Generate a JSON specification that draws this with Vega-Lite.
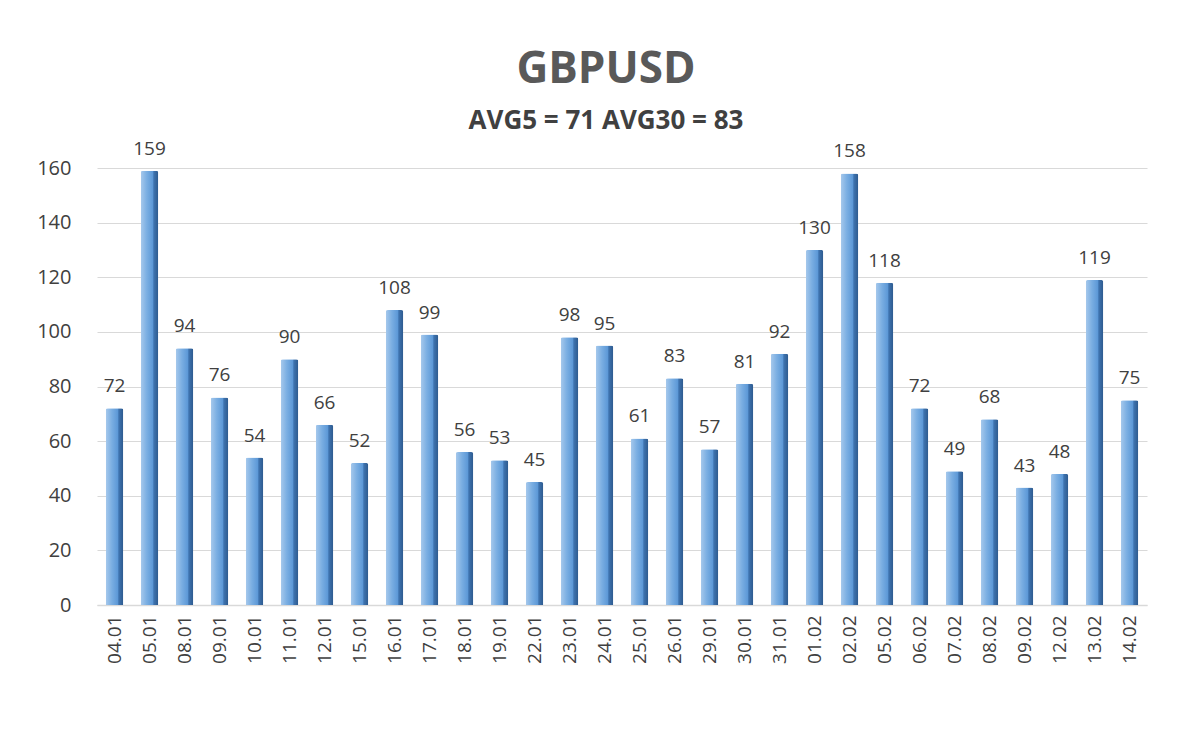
{
  "$schema": "https://vega.github.io/schema/vega-lite/v6.json",
  "autosize": {"type": "none"},
  "width": 1050,
  "height": 437,
  "padding": {"left": 97, "top": 168, "right": 53, "bottom": 144},
  "background": "white",
  "title": {
    "text": "GBPUSD",
    "subtitle": "AVG5 = 71 AVG30 = 83",
    "anchor": "middle",
    "dx": -16,
    "offset": 6,
    "font": "Open Sans",
    "fontSize": 44,
    "fontWeight": "bold",
    "color": "#595959",
    "subtitleFont": "Open Sans",
    "subtitleFontSize": 26,
    "subtitleFontWeight": "bold",
    "subtitleColor": "#404040",
    "subtitlePadding": 16
  },
  "config": {
    "view": {"stroke": null},
    "font": "Open Sans"
  },
  "data": {
    "values": [
      {"date": "04.01", "value": 72},
      {"date": "05.01", "value": 159},
      {"date": "08.01", "value": 94},
      {"date": "09.01", "value": 76},
      {"date": "10.01", "value": 54},
      {"date": "11.01", "value": 90},
      {"date": "12.01", "value": 66},
      {"date": "15.01", "value": 52},
      {"date": "16.01", "value": 108},
      {"date": "17.01", "value": 99},
      {"date": "18.01", "value": 56},
      {"date": "19.01", "value": 53},
      {"date": "22.01", "value": 45},
      {"date": "23.01", "value": 98},
      {"date": "24.01", "value": 95},
      {"date": "25.01", "value": 61},
      {"date": "26.01", "value": 83},
      {"date": "29.01", "value": 57},
      {"date": "30.01", "value": 81},
      {"date": "31.01", "value": 92},
      {"date": "01.02", "value": 130},
      {"date": "02.02", "value": 158},
      {"date": "05.02", "value": 118},
      {"date": "06.02", "value": 72},
      {"date": "07.02", "value": 49},
      {"date": "08.02", "value": 68},
      {"date": "09.02", "value": 43},
      {"date": "12.02", "value": 48},
      {"date": "13.02", "value": 119},
      {"date": "14.02", "value": 75}
    ]
  },
  "encoding": {
    "x": {
      "field": "date",
      "type": "nominal",
      "sort": null,
      "scale": {"paddingInner": 0.5, "paddingOuter": 0.25},
      "axis": {
        "title": null,
        "labelAngle": -90,
        "labelFont": "Open Sans",
        "labelFontSize": 19,
        "labelColor": "#404040",
        "labelPadding": 10,
        "ticks": false,
        "domain": true,
        "domainColor": "#d9d9d9",
        "domainWidth": 1.5
      }
    },
    "y": {
      "field": "value",
      "type": "quantitative",
      "scale": {"domain": [0, 160], "nice": false},
      "axis": {
        "title": null,
        "values": [0, 20, 40, 60, 80, 100, 120, 140, 160],
        "labelFont": "Open Sans",
        "labelFontSize": 20,
        "labelColor": "#404040",
        "labelPadding": 26,
        "ticks": false,
        "domain": false,
        "grid": true,
        "gridColor": "#d9d9d9",
        "gridWidth": 1
      }
    }
  },
  "layer": [
    {
      "mark": {
        "type": "bar",
        "cornerRadiusTopLeft": 2,
        "cornerRadiusTopRight": 2,
        "color": {
          "gradient": "linear",
          "x1": 0, "y1": 0, "x2": 1, "y2": 0,
          "stops": [
            {"offset": 0, "color": "#a7c9ec"},
            {"offset": 0.35, "color": "#7aaee2"},
            {"offset": 0.7, "color": "#5b97d6"},
            {"offset": 0.74, "color": "#3f74b0"},
            {"offset": 1, "color": "#2d5a8e"}
          ]
        }
      }
    },
    {
      "mark": {
        "type": "text",
        "dy": -22,
        "font": "Open Sans",
        "fontSize": 19,
        "color": "#404040"
      },
      "encoding": {
        "text": {"field": "value", "type": "quantitative"}
      }
    }
  ]
}
